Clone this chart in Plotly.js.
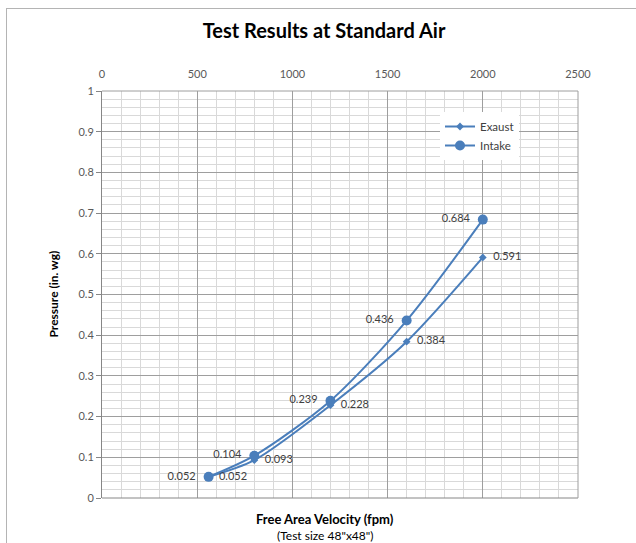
<!DOCTYPE html>
<html>
<head>
<meta charset="utf-8">
<script src="https://cdn.plot.ly/plotly-3.0.1.min.js"></script>
<style>
  html, body { margin: 0; padding: 0; background: #fff; }
  #wrap { position: relative; width: 636px; height: 543px; overflow: hidden; }
  #chart { position: absolute; left: 0; top: 0; width: 636px; height: 543px; }
  #frame { position: absolute; left: 6px; top: 8px; width: 700px; height: 700px;
           border: 1px solid #b4b4b4; pointer-events: none; }
</style>
</head>
<body>
<div id="wrap">
  <div id="chart"></div>
  <div id="frame"></div>
</div>
<script>
const velocity = [560, 800, 1200, 1600, 2000];
const exaust = [0.052, 0.093, 0.228, 0.384, 0.591];
const intake = [0.052, 0.104, 0.239, 0.436, 0.684];
const seriesNames = ["Exaust", "Intake"];
const xTicks = [0, 500, 1000, 1500, 2000, 2500];
const yTicks = [0, 0.1, 0.2, 0.3, 0.4, 0.5, 0.6, 0.7, 0.8, 0.9, 1];
const yTickText = ["0", "0.1", "0.2", "0.3", "0.4", "0.5", "0.6", "0.7", "0.8", "0.9", "1"];

const blue = "#4a7ebb";
const fontFam = "Lato, 'Open Sans', sans-serif";
const labelFont = { family: fontFam, size: 11, color: "#404040" };
const pad = "\u00a0\u00a0";

const traces = [
  {
    x: velocity, y: exaust, name: seriesNames[0], type: "scatter",
    mode: "lines+markers+text",
    line: { color: blue, width: 2, shape: "spline", smoothing: 0.8 },
    marker: { color: blue, symbol: "diamond", size: 6 },
    text: exaust.map(v => pad + v.toFixed(3)),
    textposition: "middle right",
    textfont: labelFont,
    cliponaxis: false
  },
  {
    x: velocity, y: intake, name: seriesNames[1], type: "scatter",
    mode: "lines+markers+text",
    line: { color: blue, width: 2, shape: "spline", smoothing: 0.8 },
    marker: { color: blue, symbol: "circle", size: 10 },
    text: intake.map(v => v.toFixed(3) + pad),
    textposition: "middle left",
    textfont: labelFont,
    cliponaxis: false
  }
];

const layout = {
  width: 636, height: 543,
  margin: { l: 102, r: 58, t: 91, b: 45 },
  paper_bgcolor: "rgba(0,0,0,0)",
  plot_bgcolor: "#ffffff",
  font: { family: fontFam, color: "#595959", size: 11 },
  showlegend: true,
  title: {
    text: "<b>Test Results at Standard Air</b>",
    font: { family: fontFam, size: 20, color: "#000000" },
    x: 324 / 636, xanchor: "center", xref: "container",
    y: 1 - 31 / 543, yanchor: "middle", yref: "container"
  },
  xaxis: {
    side: "top",
    range: [0, 2500],
    tickvals: xTicks, ticktext: xTicks.map(String),
    showgrid: true, gridcolor: "#9e9e9e", gridwidth: 1,
    minor: { dtick: 100, showgrid: true, gridcolor: "#d9d9d9", gridwidth: 1 },
    showline: false, zeroline: false,
    ticks: "outside", ticklen: 8, tickcolor: "rgba(0,0,0,0)",
    tickfont: { family: fontFam, size: 11, color: "#595959" },
    fixedrange: true
  },
  yaxis: {
    range: [0, 1],
    tickvals: yTicks, ticktext: yTickText,
    showgrid: true, gridcolor: "#9e9e9e", gridwidth: 1,
    minor: { dtick: 0.02, showgrid: true, gridcolor: "#d9d9d9", gridwidth: 1 },
    showline: true, linecolor: "#868686", linewidth: 1,
    zeroline: false,
    ticks: "outside", ticklen: 5, tickcolor: "#868686",
    tickfont: { family: fontFam, size: 11, color: "#595959" },
    fixedrange: true
  },
  legend: {
    x: (440 - 102) / 476, y: (498 - 112) / 407,
    xanchor: "left", yanchor: "top",
    bgcolor: "#ffffff", borderwidth: 0,
    font: { family: fontFam, size: 11.5, color: "#404040" },
    tracegroupgap: 4,
    itemwidth: 30
  },
  shapes: [
    { type: "line", xref: "paper", yref: "paper", x0: 0, x1: 1, y0: 0, y1: 0,
      line: { color: "#868686", width: 1 } },
    { type: "line", xref: "paper", yref: "paper", x0: 1, x1: 1, y0: 0, y1: 1,
      line: { color: "#9e9e9e", width: 1 } },
    { type: "line", xref: "paper", yref: "paper", x0: 0, x1: 1, y0: 1, y1: 1,
      line: { color: "#9e9e9e", width: 1 } }
  ],
  annotations: [
    {
      text: "<b>Free Area Velocity (fpm)</b>",
      xref: "paper", yref: "paper",
      x: (325 - 102) / 476, y: -(519 - 498) / 407,
      xanchor: "center", yanchor: "middle", showarrow: false,
      font: { family: fontFam, size: 13, color: "#000000" }
    },
    {
      text: "(Test size 48\"x48\")",
      xref: "paper", yref: "paper",
      x: (325 - 102) / 476, y: -(535 - 498) / 407,
      xanchor: "center", yanchor: "middle", showarrow: false,
      font: { family: fontFam, size: 12, color: "#000000" }
    },
    {
      text: "<b>Pressure (in. wg)</b>",
      xref: "paper", yref: "paper",
      x: -(102 - 53) / 476, y: 0.5,
      xanchor: "center", yanchor: "middle", showarrow: false, textangle: -90,
      font: { family: fontFam, size: 12, color: "#000000" }
    }
  ]
};

Plotly.newPlot("chart", traces, layout, { displayModeBar: false, staticPlot: true });
</script>
</body>
</html>
